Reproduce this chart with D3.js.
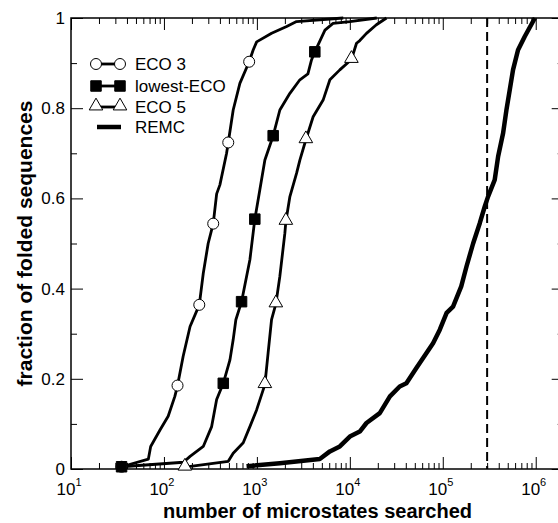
<!DOCTYPE html>
<html><head><meta charset="utf-8">
<script src="https://cdn.jsdelivr.net/npm/d3@7/dist/d3.min.js"></script>
<style>body{margin:0;background:#fff}svg{display:block;font-family:"Liberation Sans",Arial,Helvetica,sans-serif}</style>
</head><body><svg id="c" width="558" height="523"></svg>
<script>
const eco3X = [35, 68, 72, 91, 111, 131, 140, 161, 191, 240, 265, 299, 339, 369, 400, 472, 492, 556, 656, 826, 912, 994, 1440, 2090, 2670, 8500];
const eco3Y = [0.005, 0.022, 0.05, 0.087, 0.117, 0.161, 0.185, 0.25, 0.316, 0.364, 0.434, 0.50, 0.544, 0.61, 0.63, 0.70, 0.724, 0.796, 0.855, 0.903, 0.929, 0.947, 0.966, 0.981, 0.992, 1.0];
const eco3MarkX = [35, 140, 240, 339, 492, 826];
const eco3MarkY = [0.005, 0.185, 0.364, 0.544, 0.724, 0.903];

const lowestX = [35, 162, 191, 265, 326, 369, 435, 513, 556, 594, 684, 841, 950, 1076, 1219, 1497, 1766, 2265, 2900, 3540, 3870, 4200, 5400, 6600, 10000, 19500];
const lowestY = [0.005, 0.015, 0.028, 0.05, 0.094, 0.154, 0.19, 0.242, 0.287, 0.331, 0.371, 0.464, 0.554, 0.619, 0.685, 0.739, 0.796, 0.833, 0.863, 0.876, 0.907, 0.925, 0.973, 0.988, 0.992, 1.0];
const lowestMarkX = [35, 435, 684, 950, 1497, 4200];
const lowestMarkY = [0.005, 0.19, 0.371, 0.554, 0.739, 0.925];

const eco5X = [168, 492, 556, 713, 841, 993, 1219, 1320, 1438, 1600, 1766, 2000, 2050, 2265, 2675, 2900, 3365, 4030, 5160, 6100, 7800, 10400, 11800, 12800, 15100, 19300, 24800];
const eco5Y = [0.004, 0.017, 0.035, 0.058, 0.094, 0.131, 0.187, 0.257, 0.331, 0.366, 0.427, 0.523, 0.549, 0.604, 0.656, 0.685, 0.73, 0.781, 0.818, 0.863, 0.885, 0.908, 0.944, 0.95, 0.966, 0.985, 1.0];
const eco5MarkX = [168, 1219, 1600, 2050, 3365, 10400];
const eco5MarkY = [0.004, 0.187, 0.366, 0.549, 0.73, 0.908];

const remcX = [774, 1766, 4750, 6100, 7800, 10000, 12800, 15100, 21000, 27000, 34400, 40600, 52000, 66800, 78600, 92900, 110000, 129000, 158000, 180000, 212000, 250000, 283000, 307000, 362000, 394000, 446000, 484000, 525000, 570000, 645000, 762000, 980000];
const remcY = [0.006, 0.013, 0.022, 0.039, 0.05, 0.072, 0.083, 0.102, 0.124, 0.161, 0.183, 0.19, 0.224, 0.257, 0.279, 0.309, 0.346, 0.36, 0.405, 0.449, 0.50, 0.545, 0.582, 0.604, 0.641, 0.693, 0.745, 0.796, 0.84, 0.885, 0.929, 0.959, 1.0];

const refLineX = 300000;
const xMajor = [10, 100, 1000, 10000, 100000, 1000000];
const xExp = ["1", "2", "3", "4", "5", "6"];
const yMajor = [0, 0.2, 0.4, 0.6, 0.8, 1];
const yLabels = ["0", "0.2", "0.4", "0.6", "0.8", "1"];
const yMinor = [0.1, 0.3, 0.5, 0.7, 0.9];
const legendNames = ["ECO 3", "lowest-ECO", "ECO 5", "REMC"];
const xTitle = "number of microstates searched";
const yTitle = "fraction of folded sequences";

const svg = d3.select("#c");
const L = 71, R = 563.7, T = 18, B = 469;
const x = d3.scaleLog().domain([10, 2e6]).range([L, R]);
const y = d3.scaleLinear().domain([0, 1]).range([B, T]);

const xMinor = [];
for (let d = 10; d < 2e6; d *= 10) for (let k = 2; k <= 9; k++) if (d * k <= 2e6) xMinor.push(d * k);

svg.append("rect").attr("width", 558).attr("height", 523).attr("fill", "#fff");

function axis(gen, tf) {
  const g = svg.append("g").attr("transform", tf).call(gen);
  g.selectAll("text").remove();
  g.select(".domain").remove();
  g.selectAll("line").attr("stroke", "#000").attr("stroke-width", 1);
  return g;
}
axis(d3.axisBottom(x).tickValues(xMajor).tickSize(-12), `translate(0,${B})`);
axis(d3.axisBottom(x).tickValues(xMinor).tickSize(-6), `translate(0,${B})`);
axis(d3.axisTop(x).tickValues(xMajor).tickSize(-12), `translate(0,${T})`);
axis(d3.axisTop(x).tickValues(xMinor).tickSize(-6), `translate(0,${T})`);
axis(d3.axisLeft(y).tickValues(yMajor).tickSize(-12), `translate(${L},0)`);
axis(d3.axisLeft(y).tickValues(yMinor).tickSize(-6), `translate(${L},0)`);
axis(d3.axisRight(y).tickValues(yMajor).tickSize(-12), `translate(${R},0)`);
axis(d3.axisRight(y).tickValues(yMinor).tickSize(-6), `translate(${R},0)`);

// frame
svg.append("rect").attr("x", L).attr("y", T).attr("width", R - L).attr("height", B - T)
  .attr("fill", "none").attr("stroke", "#000").attr("stroke-width", 1.5);

// tick labels
xMajor.forEach((v, i) => {
  const t = svg.append("text").attr("x", x(v) - 2).attr("y", 495).attr("text-anchor", "middle")
    .attr("font-size", 17);
  t.append("tspan").text("10");
  t.append("tspan").attr("dy", -9).attr("font-size", 11).text(xExp[i]);
});
yMajor.forEach((v, i) => {
  svg.append("text").attr("x", 65).attr("y", y(v) + 6).attr("text-anchor", "end")
    .attr("font-size", 17).text(yLabels[i]);
});
svg.append("text").attr("x", (L + 558) / 2 + 3).attr("y", 518).attr("text-anchor", "middle")
  .attr("font-size", 20).attr("font-weight", "bold").text(xTitle);
svg.append("text").attr("transform", `translate(32,${(T + B) / 2}) rotate(-90)`).attr("text-anchor", "middle")
  .attr("font-size", 21).attr("font-weight", "bold").text(yTitle);

// dashed line
svg.append("line").attr("x1", x(refLineX)).attr("x2", x(refLineX)).attr("y1", T).attr("y2", B)
  .attr("stroke", "#000").attr("stroke-width", 2).attr("stroke-dasharray", "9,5");

const line = d3.line().x(d => x(d[0])).y(d => y(d[1]));
function series(xs, ys, w) {
  svg.append("path").datum(xs.map((v, i) => [v, ys[i]])).attr("d", line)
    .attr("fill", "none").attr("stroke", "#000").attr("stroke-width", w).attr("stroke-linejoin", "round");
}
series(remcX, remcY, 4.5);
series(eco5X, eco5Y, 2.8);
series(lowestX, lowestY, 2.8);
series(eco3X, eco3Y, 2.8);

const sym = {
  circle: d3.symbol().type(d3.symbolCircle).size(95),
  square: d3.symbol().type(d3.symbolSquare).size(110),
  triangle: d3.symbol().type(d3.symbolTriangle).size(80)
};
function marks(xs, ys, kind, fill) {
  xs.forEach((v, i) => {
    svg.append("path").attr("d", sym[kind]()).attr("transform", `translate(${x(v)},${y(ys[i]) + (kind === "triangle" ? -1 : 0)})`)
      .attr("fill", fill).attr("stroke", "#000").attr("stroke-width", 1);
  });
}
marks(eco5MarkX, eco5MarkY, "triangle", "#fff");
marks(eco3MarkX, eco3MarkY, "circle", "#fff");
marks(lowestMarkX, lowestMarkY, "square", "#000");

// legend
const legY = [64, 86, 107, 127];
const kinds = ["circle", "square", "triangle", null];
const fills = ["#fff", "#000", "#fff", null];
legY.forEach((ly, i) => {
  if (kinds[i]) {
    svg.append("line").attr("x1", 96).attr("x2", 120).attr("y1", ly).attr("y2", ly)
      .attr("stroke", "#000").attr("stroke-width", 2.8);
    [96, 120].forEach(px => svg.append("path").attr("d", sym[kinds[i]]())
      .attr("transform", `translate(${px},${ly + (kinds[i] === "triangle" ? -1 : 0)})`)
      .attr("fill", fills[i]).attr("stroke", "#000").attr("stroke-width", 1));
  } else {
    svg.append("line").attr("x1", 97).attr("x2", 121).attr("y1", ly).attr("y2", ly)
      .attr("stroke", "#000").attr("stroke-width", 4.5);
  }
  svg.append("text").attr("x", 135).attr("y", ly + 6).attr("font-size", 17).text(legendNames[i]);
});
</script></body></html>
